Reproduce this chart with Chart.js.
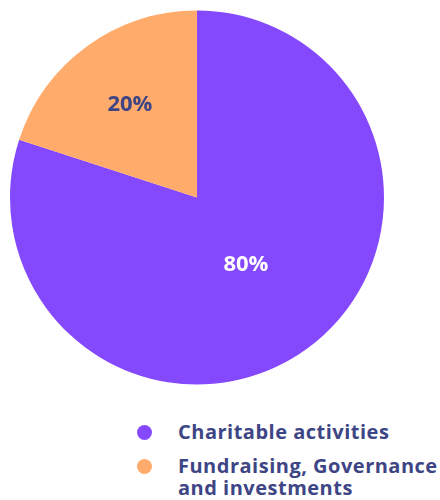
<!DOCTYPE html>
<html>
<head>
<meta charset="utf-8">
<script src="https://cdn.jsdelivr.net/npm/chart.js@4"></script>
<style>
  body { margin: 0; background: #fff; width: 440px; height: 500px; overflow: hidden; font-family: "Open Sans", sans-serif; }
  #wrap { position: absolute; left: 0; top: 0; width: 394px; height: 395px; }
  #legend { position: absolute; left: 137px; top: 421px; margin: 0; padding: 0; list-style: none; }
  #legend li { position: relative; padding-left: 41px; font-weight: 700; font-size: 20px; letter-spacing: 0.5px; line-height: 22px; color: #3e4585; margin-bottom: 12px; white-space: nowrap; }
  #legend li span { position: absolute; left: 0; top: 4px; width: 15px; height: 15px; border-radius: 50%; }
</style>
</head>
<body>
<div id="wrap"><canvas id="pie"></canvas></div>
<ul id="legend"></ul>
<script>
const categories = ['Charitable activities', 'Fundraising, Governance and investments'];
const legendLines = [['Charitable activities'], ['Fundraising, Governance', 'and investments']];
const values = [80, 20];
const colors = ['#8549fd', '#ffab6b'];
const labelColors = ['#ffffff', '#3e4585'];

// percent labels inside each slice
const sliceLabels = {
  id: 'sliceLabels',
  afterDatasetsDraw(chart) {
    const ctx = chart.ctx;
    const meta = chart.getDatasetMeta(0);
    const frac = [0.445, 0.61];
    ctx.save();
    ctx.font = '700 22px "Open Sans", sans-serif';
    ctx.textAlign = 'center';
    ctx.textBaseline = 'middle';
    meta.data.forEach((arc, i) => {
      const mid = (arc.startAngle + arc.endAngle) / 2;
      const r = arc.outerRadius * frac[i];
      ctx.fillStyle = labelColors[i];
      ctx.fillText(values[i] + '%', arc.x + Math.cos(mid) * r, arc.y + Math.sin(mid) * r);
    });
    ctx.restore();
  }
};

new Chart(document.getElementById('pie'), {
  type: 'pie',
  data: {
    labels: categories,
    datasets: [{ data: values, backgroundColor: colors, borderWidth: 0 }]
  },
  options: {
    responsive: true,
    maintainAspectRatio: false,
    animation: false,
    layout: { padding: 10 },
    plugins: { legend: { display: false }, tooltip: { enabled: false } }
  },
  plugins: [sliceLabels]
});

const ul = document.getElementById('legend');
categories.forEach((c, i) => {
  const li = document.createElement('li');
  li.innerHTML = '<span style="background:' + colors[i] + '"></span>' + legendLines[i].join('<br>');
  ul.appendChild(li);
});
</script>
</body>
</html>
